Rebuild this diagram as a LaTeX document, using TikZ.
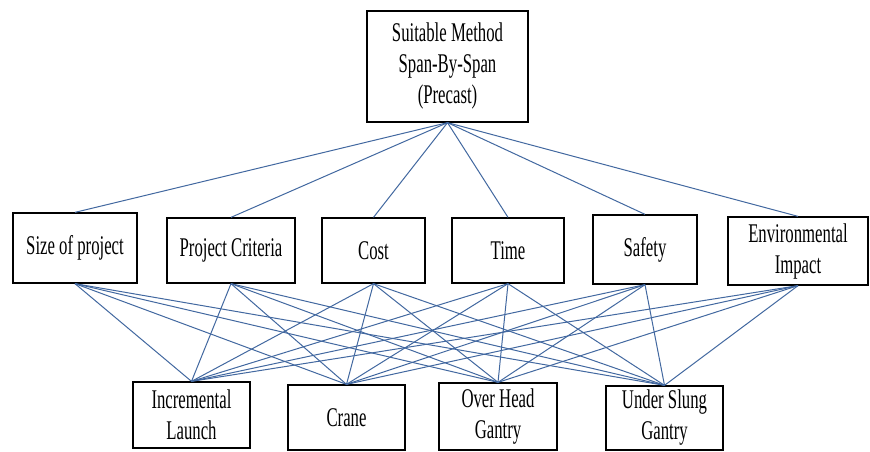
\documentclass[tikz,border=0pt]{standalone}
\usepackage{fontspec}
\setmainfont[FakeStretch=0.62]{Liberation Serif}
\definecolor{linkc}{RGB}{66,104,160}
\begin{document}
\begin{tikzpicture}[x=1pt,y=-1pt,
  box/.style={draw=black,line width=1.3pt,fill=white,align=center,inner sep=0pt,
    font=\fontsize{27}{31}\selectfont},
  link/.style={draw=linkc,line width=1pt}]
\useasboundingbox (0,0) rectangle (870,451);
\fill[white] (0,0) rectangle (870,451);
% top
\node[box,minimum width=161,minimum height=111] (top) at (447.5,66.5) {Suitable Method\\Span-By-Span\\(Precast)};
% middle row
\node[box,minimum width=124,minimum height=70] (size) at (75,248) {Size of project};
\node[box,minimum width=128,minimum height=65] (crit) at (231,250.5) {Project Criteria};
\node[box,minimum width=103,minimum height=65] (cost) at (373.5,250.5) {Cost};
\node[box,minimum width=112,minimum height=65] (time) at (508,250.5) {Time};
\node[box,minimum width=104,minimum height=69] (safe) at (645,249.5) {Safety};
\node[box,minimum width=140,minimum height=68] (env) at (798,251) {Environmental\\Impact};
% bottom row
\node[box,minimum width=117,minimum height=66] (inc) at (191.5,415) {Incremental\\Launch};
\node[box,minimum width=117,minimum height=65] (crane) at (346.5,417.5) {Crane};
\node[box,minimum width=118,minimum height=67] (oh) at (498,416.5) {Over Head\\Gantry};
\node[box,minimum width=117,minimum height=64] (us) at (664.5,418) {Under Slung\\Gantry};
% links top to middle
\foreach \m in {size,crit,cost,time,safe,env}
  \draw[link] (top.south) -- (\m.north);
% links middle to bottom
\foreach \m in {size,crit,cost,time,safe,env}
  \foreach \b in {inc,crane,oh,us}
    \draw[link] (\m.south) -- (\b.north);
\end{tikzpicture}
\end{document}
